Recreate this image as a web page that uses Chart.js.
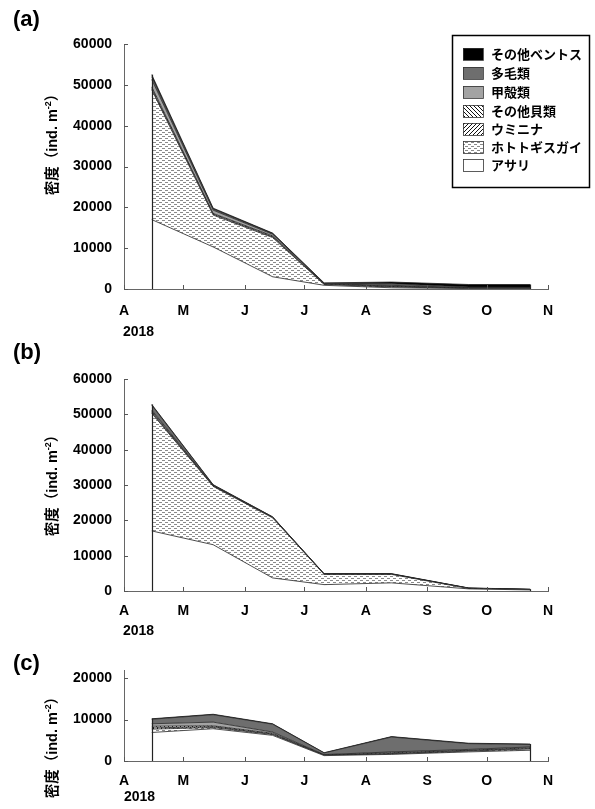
<!DOCTYPE html>
<html><head><meta charset="utf-8">
<script src="https://cdn.jsdelivr.net/npm/chart.js@4/dist/chart.umd.min.js"></script>
<style>
body{margin:0;background:#fff;width:595px;height:809px;position:relative;overflow:hidden;}
canvas{position:absolute;left:0;}
.lbl{position:absolute;font-family:"Liberation Sans",Arial,sans-serif;font-weight:bold;color:#000;white-space:nowrap;line-height:1;}
.pl{font-size:22px;}
.yr{font-size:14px;}
.yt{font-size:14.5px;transform:translate(-50%,-50%) rotate(-90deg);}
.yt .cjk{font-family:"Noto Sans CJK JP",sans-serif;}
.yt sup{font-size:9px;vertical-align:6px;}
</style></head>
<body>
<canvas id="ca" width="595" height="340" style="top:0"></canvas>
<canvas id="cb" width="595" height="290" style="top:340px"></canvas>
<canvas id="cc" width="595" height="179" style="top:630px"></canvas>

<div class="lbl pl" style="left:13px;top:8px">(a)</div>
<div class="lbl pl" style="left:13px;top:341px">(b)</div>
<div class="lbl pl" style="left:13px;top:652px">(c)</div>
<div class="lbl yr" style="left:123px;top:324px">2018</div>
<div class="lbl yr" style="left:123px;top:623px">2018</div>
<div class="lbl yr" style="left:124px;top:789px">2018</div>
<div class="lbl yt" style="left:52px;top:141px"><span class="cjk">密度（</span>ind. m<sup>-2</sup><span class="cjk">）</span></div>
<div class="lbl yt" style="left:52px;top:482px"><span class="cjk">密度（</span>ind. m<sup>-2</sup><span class="cjk">）</span></div>
<div class="lbl yt" style="left:52px;top:744px"><span class="cjk">密度（</span>ind. m<sup>-2</sup><span class="cjk">）</span></div>

<script>
// ---- data ----
const sampleDates = ['2018-04-15','2018-05-16','2018-06-15','2018-07-11','2018-08-14','2018-09-22','2018-10-23'];
const monthStarts = ['2018-04-01','2018-05-01','2018-06-01','2018-07-01','2018-08-01','2018-09-01','2018-10-01','2018-11-01'];
const monthLabels = ['A','M','J','J','A','S','O','N'];
const seriesNames = ['アサリ','ホトトギスガイ','ウミニナ','その他貝類','甲殻類','多毛類','その他ベントス'];
const yTicksAB = [0,10000,20000,30000,40000,50000,60000];
const yTicksC  = [0,10000,20000];

const asariA      = [17000,10300,3000,900,300,100,100];
const hototoA     = [31800,7800,9600,200,200,50,50];
const umininaA    = [300,200,200,50,100,50,50];
const otherShellA = [400,200,200,50,100,50,50];
const crustA      = [1800,800,400,100,200,100,50];
const polyA       = [700,300,150,100,400,150,100];
const otherA      = [500,200,150,100,400,600,700];

const asariB      = [17000,13100,3700,1800,2300,600,300];
const hototoB     = [33300,16500,17000,2900,2400,100,100];
const umininaB    = [200,100,50,30,30,30,10];
const otherShellB = [300,100,50,30,30,30,10];
const crustB      = [400,100,50,40,40,30,20];
const polyB       = [1400,100,100,50,50,30,30];
const otherB      = [200,100,50,50,50,30,30];

const asariC      = [6900,7800,6200,1300,1600,2200,2600];
const hototoC     = [800,300,200,50,100,200,300];
const umininaC    = [300,200,100,50,100,100,100];
const otherShellC = [400,200,200,50,200,100,200];
const crustC      = [600,900,300,100,200,200,200];
const polyC       = [1100,1800,1900,400,3600,1400,600];
const otherC      = [100,100,100,50,100,100,100];

// ---- helpers ----
const day0 = Date.UTC(2018,3,1);
const toDay = s => { const [y,m,d] = s.split('-').map(Number); return Math.round((Date.UTC(y,m-1,d)-day0)/86400000); };
const xs = sampleDates.map(toDay);
const monthTicks = monthStarts.map(toDay);

function pat(kind){
  const c = document.createElement('canvas');
  const g = c.getContext('2d');
  if(kind==='dash'){
    c.width=6;c.height=4;
    g.fillStyle='#fff';g.fillRect(0,0,6,4);
    g.fillStyle='#8a8a8a';g.fillRect(0,0,3,1);g.fillRect(3,2,3,1);
  } else {
    c.width=4;c.height=4;
    g.fillStyle='#fff';g.fillRect(0,0,4,4);
    g.strokeStyle='#111';g.lineWidth=1;
    g.beginPath();
    if(kind==='fwd'){ g.moveTo(-1,5);g.lineTo(5,-1);g.moveTo(-1,1);g.lineTo(1,-1);g.moveTo(3,5);g.lineTo(5,3); }
    else { g.moveTo(-1,-1);g.lineTo(5,5);g.moveTo(3,-1);g.lineTo(5,1);g.moveTo(-1,3);g.lineTo(1,5); }
    g.stroke();
  }
  return g.createPattern(c,'repeat');
}
const fills = ['#ffffff', pat('dash'), pat('fwd'), pat('back'), '#a3a3a3', '#6e6e6e', '#000000'];

const FONT = '"Liberation Sans", Arial, sans-serif';

const decor = {
  id:'decor',
  afterDatasetsDraw(chart){
    const {ctx} = chart; const x = chart.scales.x, y = chart.scales.y;
    ctx.save();
    ctx.strokeStyle='#555'; ctx.lineWidth=1;
    ctx.beginPath();
    x.ticks.forEach(t=>{ const px=Math.round(x.getPixelForValue(t.value))+0.5; ctx.moveTo(px,y.bottom); ctx.lineTo(px,y.bottom-4); });
    y.ticks.forEach(t=>{ const py=Math.round(y.getPixelForValue(t.value))+0.5; ctx.moveTo(x.left,py); ctx.lineTo(x.left+4,py); });
    ctx.stroke();
    // edge verticals of the stacked area
    const ds = chart.data.datasets;
    const n = ds[0].data.length;
    [0, n-1].forEach(i=>{
      let tot = 0; ds.forEach(d=>{ tot += d.data[i].y; });
      const px = Math.round(x.getPixelForValue(ds[0].data[i].x))+0.5;
      ctx.strokeStyle='#222'; ctx.lineWidth=1.2;
      ctx.beginPath(); ctx.moveTo(px,y.getPixelForValue(0)); ctx.lineTo(px,y.getPixelForValue(tot)); ctx.stroke();
    });
    ctx.restore();
  }
};

const legendBox = {
  id:'legendBox',
  afterDraw(chart, args, opts){
    if(!opts.show) return;
    const ctx = chart.ctx;
    ctx.save();
    ctx.fillStyle='#fff'; ctx.fillRect(452.5,35.5,137,152);
    ctx.strokeStyle='#000'; ctx.lineWidth=1.5; ctx.strokeRect(452.5,35.5,137,152);
    const order = [6,5,4,3,2,1,0];
    const yc = [54,73,92,111,129,147,165];
    ctx.font = 'bold 13px "Noto Sans CJK JP", sans-serif';
    ctx.textBaseline='middle';
    order.forEach((k,i)=>{
      ctx.fillStyle = fills[k];
      ctx.fillRect(463, yc[i]-6, 20, 12);
      ctx.strokeStyle = '#333'; ctx.lineWidth=0.8;
      ctx.strokeRect(463.5, yc[i]-5.5, 20, 12);
      ctx.fillStyle='#000';
      ctx.fillText(seriesNames[k], 491, yc[i]);
    });
    ctx.restore();
  }
};

function build(id, series, ymax, yTicks, padTop, xH, xPad, showLegend){
  const datasets = series.map((arr,k)=>({
    label: seriesNames[k],
    data: arr.map((v,i)=>({x:xs[i], y:v})),
    backgroundColor: fills[k],
    borderColor: '#222',
    borderWidth: 0.8,
    pointRadius: 0,
    tension: 0,
    fill: k===0 ? 'origin' : '-1'
  }));
  new Chart(document.getElementById(id), {
    type:'line',
    data:{datasets},
    plugins:[decor, legendBox],
    options:{
      responsive:false, animation:false,
      layout:{padding:{top:padTop, right:47, left:0, bottom:0}},
      plugins:{legend:{display:false}, tooltip:{enabled:false}, legendBox:{show:showLegend}},
      scales:{
        x:{
          type:'linear', min:0, max:monthTicks[monthTicks.length-1],
          afterBuildTicks: s => { s.ticks = monthTicks.map(v=>({value:v})); },
          afterFit: s => { s.height = xH; },
          grid:{drawOnChartArea:false, drawTicks:false},
          border:{color:'#666', width:1},
          ticks:{autoSkip:false, maxRotation:0, padding:xPad, color:'#000',
                 font:{family:FONT, weight:'bold', size:14},
                 callback:(v,i)=>monthLabels[i]}
        },
        y:{
          stacked:true, min:0, max:ymax,
          afterBuildTicks: s => { s.ticks = yTicks.map(v=>({value:v})); },
          afterFit: s => { s.width = 124; },
          grid:{drawOnChartArea:false, drawTicks:false},
          border:{color:'#666', width:1},
          ticks:{autoSkip:false, padding:12, color:'#000',
                 font:{family:FONT, weight:'bold', size:14},
                 callback:(v,i)=>String(yTicks[i])}
        }
      }
    }
  });
}

build('ca', [asariA,hototoA,umininaA,otherShellA,crustA,polyA,otherA], 60000, yTicksAB, 44, 51, 14, true);
build('cb', [asariB,hototoB,umininaB,otherShellB,crustB,polyB,otherB], 60000, yTicksAB, 39, 39, 12, false);
build('cc', [asariC,hototoC,umininaC,otherShellC,crustC,polyC,otherC], 22000, yTicksC, 40, 48, 12, false);
</script>
</body></html>
